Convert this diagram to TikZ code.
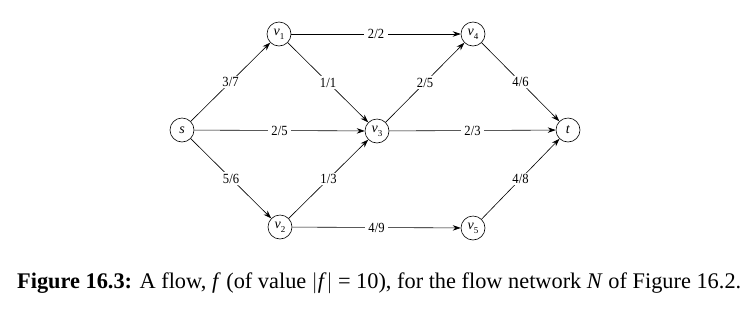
\documentclass[tikz,border=0pt]{standalone}
\usepackage{fontspec}
\setmainfont{Liberation Serif}
\newfontfamily\condfont[FakeStretch=0.9]{Liberation Serif}
\usetikzlibrary{arrows.meta}
\newcommand{\vsub}[1]{\textit{v}\raisebox{-0.6ex}{\fontsize{9}{9}\selectfont #1}}
\begin{document}
\begin{tikzpicture}[x=1pt,y=-1pt,
  vert/.style={circle,draw,line width=0.6pt,minimum size=24pt,inner sep=0pt,font=\fontsize{14}{14}\selectfont},
  edge/.style={line width=0.6pt,-{Stealth[length=8pt,width=5.5pt]}},
  lab/.style={fill=white,inner xsep=3.5pt,inner ysep=1.5pt,font=\condfont\fontsize{14}{14}\selectfont}]
\useasboundingbox (0,0) rectangle (744,314);
\node[vert] (s) at (182,130) {\textit{s}};
\node[vert] (v1) at (279,34) {\vsub{1}};
\node[vert] (v3) at (377,131) {\vsub{3}};
\node[vert] (v4) at (473,34) {\vsub{4}};
\node[vert] (t) at (568,130) {\textit{t}};
\node[vert] (v2) at (280,227) {\vsub{2}};
\node[vert] (v5) at (473,228) {\vsub{5}};
\draw[edge] (s) -- node[lab] {3/7} (v1);
\draw[edge] (s) -- node[lab] {2/5} (v3);
\draw[edge] (s) -- node[lab] {5/6} (v2);
\draw[edge] (v1) -- node[lab] {2/2} (v4);
\draw[edge] (v1) -- node[lab] {1/1} (v3);
\draw[edge] (v2) -- node[lab] {1/3} (v3);
\draw[edge] (v2) -- node[lab] {4/9} (v5);
\draw[edge] (v3) -- node[lab] {2/5} (v4);
\draw[edge] (v3) -- node[lab] {2/3} (t);
\draw[edge] (v4) -- node[lab] {4/6} (t);
\draw[edge] (v5) -- node[lab] {4/8} (t);
\node[anchor=base west,inner sep=0pt,font=\fontsize{22}{22}\selectfont] (cap) at (17,288) {\resizebox{724pt}{!}{\textbf{Figure 16.3:} A flow, \textit{f} (of value $|$\textit{f}$|$ = 10), for the flow network \textit{N} of Figure 16.2.}};
\end{tikzpicture}
\end{document}
